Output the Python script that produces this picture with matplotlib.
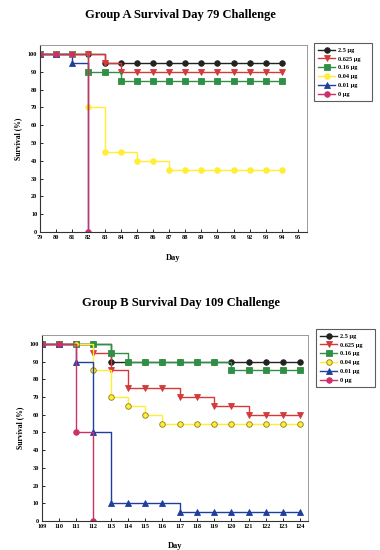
import matplotlib
matplotlib.use("Agg")
import matplotlib.pyplot as plt

days_a = list(range(79, 95))
a_25 = [100, 100, 100, 100, 95, 95, 95, 95, 95, 95, 95, 95, 95, 95, 95, 95]
a_0625 = [100, 100, 100, 100, 95, 90, 90, 90, 90, 90, 90, 90, 90, 90, 90, 90]
a_016 = [100, 100, 100, 90, 90, 85, 85, 85, 85, 85, 85, 85, 85, 85, 85, 85]
a_004 = [100, 100, 100, 70, 45, 45, 40, 40, 35, 35, 35, 35, 35, 35, 35, 35]
days_a_short = [79, 80, 81, 82]
a_001 = [100, 100, 95, 0]
a_0 = [100, 100, 100, 0]

days_b = list(range(109, 125))
b_25 = [100, 100, 100, 100, 90, 90, 90, 90, 90, 90, 90, 90, 90, 90, 90, 90]
b_0625 = [100, 100, 100, 95, 85, 75, 75, 75, 70, 70, 65, 65, 60, 60, 60, 60]
b_016 = [100, 100, 100, 100, 95, 90, 90, 90, 90, 90, 90, 85, 85, 85, 85, 85]
b_004 = [100, 100, 100, 85, 70, 65, 60, 55, 55, 55, 55, 55, 55, 55, 55, 55]
b_001 = [100, 100, 90, 50, 10, 10, 10, 10, 5, 5, 5, 5, 5, 5, 5, 5]
days_b_short = [109, 110, 111, 112]
b_0 = [100, 100, 50, 0]

labels = ["2.5 µg", "0.625 µg", "0.16 µg", "0.04 µg", "0.01 µg", "0 µg"]
yticks = list(range(0, 101, 10))
xticks_a = list(range(79, 96))
xticks_b = list(range(109, 125))

colors = ["#222222", "#d43a3a", "#2f8f45", "#ffee33", "#1f3f9f", "#cc2f6a"]
markers = ["o", "v", "s", "o", "^", "o"]

serif = ["Liberation Serif", "DejaVu Serif"]
plt.rcParams["font.family"] = serif

fig = plt.figure(figsize=(3.8, 5.5), dpi=100)
W, H = 380, 550

def add_ax(l, t, r, b):
    return fig.add_axes([l / W, 1 - b / H, (r - l) / W, (b - t) / H])

def draw(ax, series, xlim, xticks, title_y, title, leg_box, xlabel_y, yellow_edge):
    for i, (x, y) in enumerate(series):
        mec = colors[i]
        if i == 3 and yellow_edge:
            mec = "#8a7a20"
        ax.plot(x, y, drawstyle="steps-post", color=colors[i], lw=1.0,
                marker=markers[i], ms=4, mfc=colors[i], mec=mec, mew=0.6,
                label=labels[i])
    ax.set_xlim(*xlim)
    ax.set_ylim(0, 105)
    ax.set_xticks(xticks)
    ax.set_yticks(yticks)
    ax.tick_params(direction="in", length=2, width=0.6, labelsize=4.5, pad=2)
    for lab in ax.get_xticklabels() + ax.get_yticklabels():
        lab.set_fontweight("bold")
    for s in ["left", "bottom"]:
        ax.spines[s].set_color("#333333")
        ax.spines[s].set_linewidth(0.8)
    for s in ["top", "right"]:
        ax.spines[s].set_color("#999999")
        ax.spines[s].set_linewidth(0.7)
    ax.set_ylabel("Survival (%)", fontsize=5.5, fontweight="bold", labelpad=4)
    fig.text(0.5 * (ax.get_position().x0 + ax.get_position().x1) + 0.0, 1 - xlabel_y / H,
             "Day", ha="center", va="center", fontsize=6, fontweight="bold")
    fig.text(0.475, 1 - title_y / H, title, ha="center", va="center",
             fontsize=9, fontweight="bold")
    l, t, r, b = leg_box
    leg = ax.legend(loc="upper left",
                    bbox_to_anchor=((l) / W, 1 - t / H, (r - l) / W, (b - t) / H),
                    bbox_transform=fig.transFigure, mode="expand",
                    prop={"size": 4.5, "weight": "bold", "family": serif},
                    frameon=True, fancybox=False, borderaxespad=0,
                    handlelength=2.6, labelspacing=0.55, borderpad=0.7,
                    handletextpad=0.5)
    leg.get_frame().set_edgecolor("#333333")
    leg.get_frame().set_linewidth(0.8)

ax1 = add_ax(40, 45, 307, 232)
draw(ax1, [(days_a, a_25), (days_a, a_0625), (days_a, a_016), (days_a, a_004),
           (days_a_short, a_001), (days_a_short, a_0)],
     (79, 95.55), xticks_a, 15, "Group A Survival Day 79 Challenge",
     (314, 113, 372, 183), 258, False)

ax2 = add_ax(41.7, 335, 308, 521)
draw(ax2, [(days_b, b_25), (days_b, b_0625), (days_b, b_016), (days_b, b_004),
           (days_b, b_001), (days_b_short, b_0)],
     (109, 124.45), xticks_b, 303, "Group B Survival Day 109 Challenge",
     (316, 399, 375, 469), 546, True)

fig.savefig("out.png", dpi=100)
